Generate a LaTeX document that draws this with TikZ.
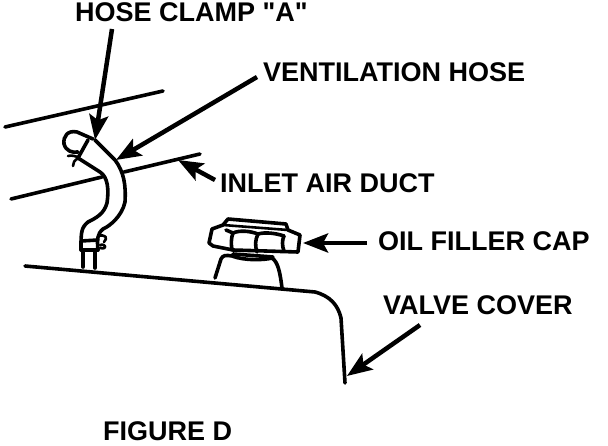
\documentclass[tikz,border=0pt]{standalone}
\usepackage{fontspec}
\setmainfont{Liberation Sans}[Ligatures=TeXOff]
\usetikzlibrary{calc,arrows.meta}

\begin{document}
\begin{tikzpicture}[
	x=1pt,y=-1pt,
	part/.style={line width=3.6pt,line join=round,line cap=round},
	thin part/.style={line width=2.6pt,line join=round,line cap=round},
	pointer/.style={line width=4.5pt,arrows={-Stealth[length=25pt,width=19pt,inset=5pt]}},
	label/.style={anchor=base west,inner sep=0pt,font=\fontsize{27}{27}\selectfont\bfseries}]
	\useasboundingbox (0,0) rectangle (608,446);
	% labels
	\node[label] (clamp) at (75,22) {HOSE CLAMP "A"};
	\node[label] (hose) at (263,82) {VENTILATION HOSE};
	\node[label] (duct) at (220,193) {INLET AIR DUCT};
	\node[label] (cap) at (378,251) {OIL FILLER CAP};
	\node[label] (cover) at (383,315) {VALVE COVER};
	\node[label] (figure) at (103,440) {FIGURE D};
	% arrow ends
	\coordinate (clamp tail) at (112,29);
	\coordinate (clamp tip) at (95,140);
	\coordinate (hose tail) at (257,77);
	\coordinate (hose tip) at (116,160);
	\coordinate (duct tail) at (215,180);
	\coordinate (duct tip) at (178,160);
	\coordinate (cap tail) at (367,243);
	\coordinate (cap tip) at (303,243);
	\coordinate (cover tail) at (420,325);
	\coordinate (cover tip) at (347,376);
	\draw[pointer] (clamp tail) -- (clamp tip);
	\draw[pointer] (hose tail) -- (hose tip);
	\draw[pointer] (duct tail) -- (duct tip);
	\draw[pointer] (cap tail) -- (cap tip);
	\draw[pointer] (cover tail) -- (cover tip);
	% duct lines
	\draw[part] (5,127) -- (163,91);
	\draw[part] (11,199) -- (102,177);
	\draw[part] (124,172) -- (200,154);
	% hose
	\draw[part] (78,158) -- (100,172) .. controls (108,177) and (109,190) .. (107,203)
		.. controls (104,214) and (96,218) .. (88,222) .. controls (81,228) and (81,232) .. (81,250);
	\draw[part] (95,140) -- (115,160) .. controls (124,172) and (126,185) .. (125,202)
		.. controls (122,216) and (110,226) .. (103,229) .. controls (97,234) and (97,240) .. (98,250);
	% top clamp
	\draw[part] (93,139) -- (77,132) .. controls (68,130) and (63,136) .. (64,144)
		.. controls (66,151) and (72,153) .. (78,152);
	\draw[part] (88,140) -- (78,158);
	\draw[thin part] (68,156) .. controls (72,155) and (76,156) .. (79,158);
	\draw[thin part] (79,158) .. controls (74,160) and (73,163) .. (73,166);
	% lower clamp and stub
	\draw[part] (81,241) -- (98,240);
	\draw[part] (81,250) -- (98,250);
	\draw[thin part] (98,236) .. controls (106,234) and (108,238) .. (104,242);
	\draw[thin part] (100,245) .. controls (106,243) and (108,250) .. (100,248);
	\draw[part] (83,252) -- (83,267);
	\draw[part] (95,252) -- (95,268);
	% valve cover
	\draw[part] (25,266) -- (315,292) .. controls (330,296) and (338,305) .. (341,318) -- (345,383);
	% filler cap
	\draw[part] (215,278) -- (221,259) .. controls (223,255) and (226,255) .. (232,256)
		.. controls (245,261) and (265,260) .. (272,258) .. controls (278,262) and (280,272) .. (282,288);
	\draw[part] (212,229) -- (209,243) -- (213,246) -- (233,250) -- (298,252) -- (300,235)
		-- (288,230) -- (286,224) -- (228,219) -- (223,225) -- cycle;
	\draw[thin part] (223,225) -- (288,230);
	\draw[part] (226,230) -- (233,233) .. controls (231,238) and (231,244) .. (232,250);
	\draw[part] (233,233) .. controls (240,230) and (250,231) .. (258,234);
	\draw[part] (258,234) .. controls (255,240) and (255,246) .. (257,252);
	\draw[part] (258,234) .. controls (265,232) and (275,233) .. (284,236);
	\draw[part] (284,236) .. controls (282,240) and (282,246) .. (284,251);
	\draw[part] (233,254) -- (273,257);
\end{tikzpicture}
\end{document}
